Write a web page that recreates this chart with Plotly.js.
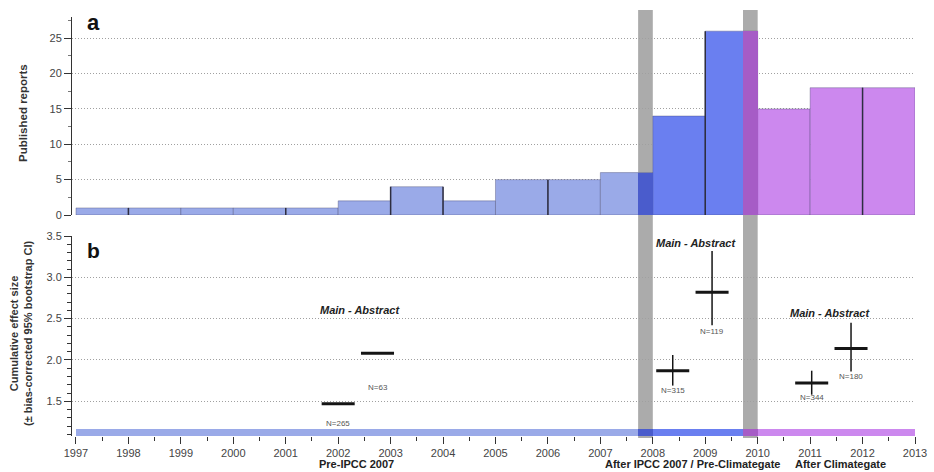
<!DOCTYPE html>
<html>
<head>
<meta charset="utf-8">
<script src="https://cdn.plot.ly/plotly-3.0.1.min.js"></script>
<style>html,body{margin:0;padding:0;background:#fff}#chart{width:934px;height:472px}</style>
</head>
<body>
<div id="chart"></div>
<script>
// ---------------- DATA ----------------
const years = [1997,1998,1999,2000,2001,2002,2003,2004,2005,2006,2007,2008,2009,2010,2011,2012];
const reports = [1,1,1,1,1,2,4,2,5,5,6,14,26,15,18,18];
const periodBreaks = [2008, 2010];                 // start of 2nd and 3rd period
const bandStart = [2007.72, 2009.72];              // grey transition bands
const bandEnd = [2008, 2010];
const darkEdges = [1998, 2001, 2003, 2004, 2006, 2009, 2012];

const effX = [2002.0, 2002.75, 2008.38, 2009.13, 2011.03, 2011.78];
const effY = [1.47, 2.08, 1.87, 2.82, 1.72, 2.14];
const effHi = [1.47, 2.08, 2.06, 3.32, 1.87, 2.45];
const effLo = [1.47, 2.08, 1.69, 2.42, 1.58, 1.86];
const nLabels = ['N=265', 'N=63', 'N=315', 'N=119', 'N=344', 'N=180'];
const nLabelY = [1.23, 1.67, 1.63, 2.35, 1.54, 1.80];
const groupHalfWidth = 0.315;

const mainLabel = 'Main - Abstract';
const mainX = [2002.42, 2008.82, 2011.38];
const mainY = [2.60, 3.41, 2.565];

const periodLabels = ['Pre-IPCC 2007', 'After IPCC 2007 / Pre-Climategate', 'After Climategate'];
const periodLabelX = [2002.34, 2008.75, 2011.57];

const xTickVals = [1997,1998,1999,2000,2001,2002,2003,2004,2005,2006,2007,2008,2009,2010,2011,2012,2013];
const xTickText = xTickVals.map(String);

// ---------------- STYLE ----------------
const periodColors = ['#9aaae8', '#6a7ff0', '#cc88ee'];
const bandOverlayColors = ['#4a5ccc', '#a65cc6'];
const bandColor = '#ababab';
const gridColor = '#a0a0a0';
const gridDash = '1px,2px';
const axisColor = '#333';
const tickFontColor = '#444';
const FONT = 'Liberation Sans, Arial, sans-serif';

function periodIndex(x) {
  let i = 0;
  for (const b of periodBreaks) if (x >= b) i++;
  return i;
}

// bars (top panel)
const barTrace = {
  type: 'bar', xaxis: 'x', yaxis: 'y',
  x: years.map(y => y + 0.5), y: reports, width: years.map(() => 1),
  marker: { color: years.map(y => periodColors[periodIndex(y)]),
            line: { color: 'rgba(60,60,100,0.35)', width: 1 } },
  hoverinfo: 'skip', showlegend: false
};
// where bars sit under the grey bands
const bandBarTrace = {
  type: 'bar', xaxis: 'x', yaxis: 'y',
  x: bandStart.map((s, i) => (s + bandEnd[i]) / 2),
  y: bandStart.map(s => reports[years.indexOf(Math.floor(s))]),
  width: bandStart.map((s, i) => bandEnd[i] - s),
  marker: { color: bandOverlayColors, line: { width: 0 } },
  hoverinfo: 'skip', showlegend: false
};
// dark edges between some bars
const ex = [], ey = [];
darkEdges.forEach(e => {
  const i = years.indexOf(e);
  const h = Math.max(reports[i - 1] || 0, reports[i] || 0);
  ex.push(e, e, null); ey.push(0, h, null);
});
const edgeTrace = {
  type: 'scatter', mode: 'lines', xaxis: 'x', yaxis: 'y',
  x: ex, y: ey, line: { color: '#2e2e40', width: 1.5 },
  hoverinfo: 'skip', showlegend: false
};

// period strip at bottom of panel b
const stripLo = 1.08, stripHi = 1.17;
const segStart = [], segEnd = [], segColor = [];
(function () {
  const bounds = [years[0]];
  bandStart.forEach((s, i) => { bounds.push(s, bandEnd[i]); });
  bounds.push(years[years.length - 1] + 1);
  for (let i = 0; i < bounds.length - 1; i++) {
    segStart.push(bounds[i]); segEnd.push(bounds[i + 1]);
    if (i % 2 === 1) segColor.push(bandOverlayColors[(i - 1) / 2]);
    else segColor.push(periodColors[i / 2]);
  }
})();
const stripTrace = {
  type: 'bar', xaxis: 'x2', yaxis: 'y2',
  x: segStart.map((s, i) => (s + segEnd[i]) / 2),
  y: segStart.map(() => stripHi - stripLo), base: stripLo,
  width: segStart.map((s, i) => segEnd[i] - s),
  marker: { color: segColor, line: { width: 0 } },
  hoverinfo: 'skip', showlegend: false
};

const effTrace = {
  type: 'scatter', mode: 'markers', xaxis: 'x2', yaxis: 'y2',
  x: effX, y: effY,
  marker: { size: 1, color: 'rgba(0,0,0,0)' },
  error_x: { type: 'constant', value: groupHalfWidth, thickness: 3, width: 0, color: '#151515' },
  error_y: { type: 'data', symmetric: false,
             array: effHi.map((h, i) => h - effY[i]),
             arrayminus: effLo.map((l, i) => effY[i] - l),
             thickness: 1.5, width: 0, color: '#151515' },
  hoverinfo: 'skip', showlegend: false
};

const C = { xanchor: 'center', yanchor: 'middle', showarrow: false };
const annotations = [];
nLabels.forEach((t, i) => annotations.push(Object.assign({
  xref: 'x2', yref: 'y2', x: effX[i], y: nLabelY[i], text: t,
  font: { family: FONT, size: 8, color: '#555' } }, C)));
mainX.forEach((x, i) => annotations.push(Object.assign({
  xref: 'x2', yref: 'y2', x: x, y: mainY[i], text: '<b><i>' + mainLabel + '</i></b>',
  font: { family: FONT, size: 11, color: '#222' } }, C)));
periodLabels.forEach((t, i) => annotations.push(Object.assign({
  xref: 'x2', yref: 'paper', x: periodLabelX[i], y: 1 - 464 / 472, text: '<b>' + t + '</b>',
  font: { family: FONT, size: 11, color: '#222' } }, C)));
annotations.push(Object.assign({ xref: 'paper', yref: 'paper', x: 13 / 843, y: 1 - 23 / 472,
  text: '<b>a</b>', font: { family: FONT, size: 22, color: '#111' } }, C, { xanchor: 'left' }));
annotations.push(Object.assign({ xref: 'paper', yref: 'paper', x: 13 / 843, y: 1 - 250 / 472,
  text: '<b>b</b>', font: { family: FONT, size: 21, color: '#111' } }, C, { xanchor: 'left' }));
annotations.push(Object.assign({ xref: 'paper', yref: 'paper', x: (23 - 72) / 843, y: 1 - 113 / 472, textangle: -90,
  text: '<b>Published reports</b>', font: { family: FONT, size: 11.5, color: '#333' } }, C));
annotations.push(Object.assign({ xref: 'paper', yref: 'paper', x: (21 - 72) / 843, y: 1 - 334 / 472, textangle: -90,
  text: '<b>Cumulative effect size<br>(± bias-corrected 95% bootstrap CI)</b>',
  font: { family: FONT, size: 11, color: '#333' } }, C));

const shapes = bandStart.map((s, i) => ({
  type: 'rect', layer: 'below', xref: 'x', yref: 'paper',
  x0: s, x1: bandEnd[i], y0: 1 - 438 / 472, y1: 1 - 10 / 472,
  fillcolor: bandColor, line: { width: 0 }
}));

const xRange = [1996.924, 2013];
const layout = {
  width: 934, height: 472,
  margin: { l: 72, r: 19, t: 0, b: 0 },
  paper_bgcolor: '#fff', plot_bgcolor: 'rgba(0,0,0,0)',
  barmode: 'overlay', bargap: 0,
  font: { family: FONT, size: 11, color: tickFontColor },
  showlegend: false,
  xaxis: { domain: [0, 1], range: xRange, anchor: 'y', showticklabels: false, ticks: '',
           showgrid: false, zeroline: false, showline: false },
  yaxis: { domain: [1 - 215 / 472, 1 - 17 / 472], range: [0, 28], anchor: 'x',
           tickvals: [0, 5, 10, 15, 20, 25], ticks: 'outside', ticklen: 7, tickcolor: axisColor, tickwidth: 1,
           minor: { dtick: 2.5, ticks: 'outside', ticklen: 3, tickcolor: '#777', showgrid: false },
           showline: true, linecolor: axisColor, linewidth: 1,
           showgrid: true, gridcolor: gridColor, griddash: gridDash, gridwidth: 1, zeroline: false,
           tickfont: { family: FONT, size: 11, color: tickFontColor } },
  xaxis2: { domain: [0, 1], range: xRange, anchor: 'y2', matches: 'x',
            tickvals: xTickVals, ticktext: xTickText, ticks: 'outside', ticklen: 7, tickcolor: axisColor,
            minor: { dtick: 0.5, tick0: 1997, ticks: 'outside', ticklen: 4, tickcolor: axisColor, showgrid: false },
            showgrid: false, zeroline: false, showline: false,
            tickfont: { family: FONT, size: 11, color: tickFontColor } },
  yaxis2: { domain: [1 - 436 / 472, 1 - 236 / 472], range: [1.08, 3.5], anchor: 'x2',
            tickvals: [1.5, 2.0, 2.5, 3.0, 3.5], ticktext: ['1.5', '2.0', '2.5', '3.0', '3.5'],
            ticks: 'outside', ticklen: 7, tickcolor: axisColor,
            minor: { dtick: 0.1, tick0: 1.0, ticks: 'outside', ticklen: 4, tickcolor: axisColor, showgrid: false },
            showline: true, linecolor: axisColor, linewidth: 1,
            showgrid: true, gridcolor: gridColor, griddash: gridDash, gridwidth: 1, zeroline: false,
            tickfont: { family: FONT, size: 11, color: tickFontColor } },
  shapes: shapes,
  annotations: annotations
};

Plotly.newPlot('chart', [barTrace, bandBarTrace, edgeTrace, stripTrace, effTrace], layout,
  { staticPlot: true, displayModeBar: false });
</script>
</body>
</html>
